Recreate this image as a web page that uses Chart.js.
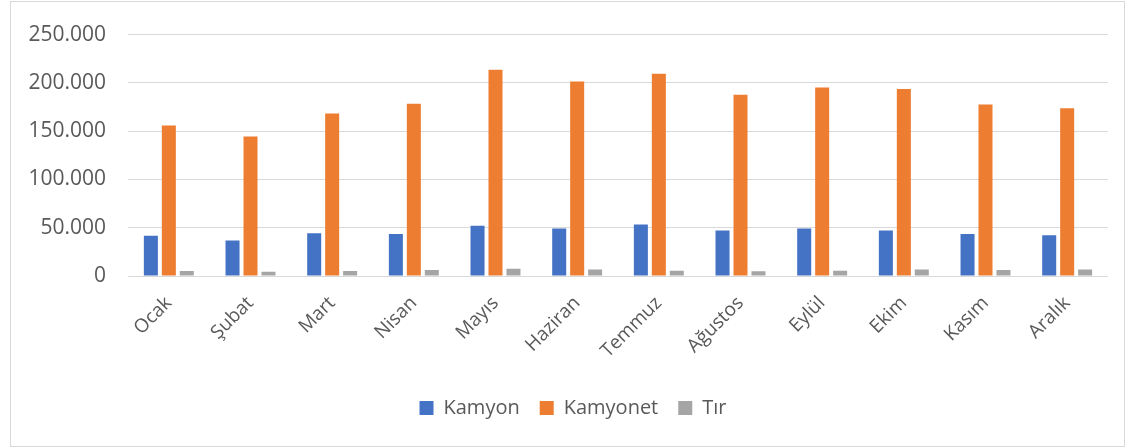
<!DOCTYPE html>
<html><head><meta charset="utf-8">
<script src="https://cdn.jsdelivr.net/npm/chart.js@4"></script>
<style>
html,body{margin:0;padding:0;background:#fff;}
#frame{position:absolute;left:10px;top:1px;width:1113px;height:444px;border:1px solid #d9d9d9;}
#wrap{position:absolute;left:0;top:0;width:1125px;height:448px;}
</style></head>
<body>
<div id="frame"></div>
<div id="wrap"><canvas id="c" width="1125" height="448"></canvas></div>
<script>
const months = ["Ocak","Şubat","Mart","Nisan","Mayıs","Haziran","Temmuz","Ağustos","Eylül","Ekim","Kasım","Aralık"];
const kamyon = [41800,36700,44200,43500,52000,49300,53400,47200,49300,47200,43500,42100];
const kamyonet = [155800,144500,168400,178300,213600,201300,209500,187600,195100,193700,177700,173600];
const tir = [5100,4500,5100,6200,7500,6800,5500,4800,5500,6800,6200,6800];
const yMin = 0, yMax = 250000, yStep = 50000;

const fontFamily = "'Open Sans', sans-serif";
const txt = '#595959';

const shiftLegend = {
  id:'shiftLegend',
  afterLayout(chart){ const l = chart.legend; if(l){ l.left += 14; l.right += 14; } }
};

new Chart(document.getElementById('c'), {
  type: 'bar',
  data: {
    labels: months,
    datasets: [
      {label:'Kamyon', data:kamyon, backgroundColor:'#4472C4'},
      {label:'Kamyonet', data:kamyonet, backgroundColor:'#ED7D31'},
      {label:'Tır', data:tir, backgroundColor:'#A5A5A5'}
    ]
  },
  plugins:[shiftLegend],
  options: {
    responsive:false, animation:false,
    devicePixelRatio:1,
    datasets:{bar:{categoryPercentage:0.66, barPercentage:0.78}},
    layout:{padding:{left:10, right:17, top:31, bottom:20}},
    plugins:{
      tooltip:{enabled:false},
      legend:{position:'bottom', labels:{font:{family:fontFamily,size:20}, color:txt, boxWidth:14, boxHeight:14, padding:20}}
    },
    scales:{
      x:{
        grid:{display:false}, border:{display:false},
        ticks:{font:{family:fontFamily,size:19}, color:txt, maxRotation:45, minRotation:45, padding:8},
        afterFit:(s)=>{s.height = 102;}
      },
      y:{
        min:yMin, max:yMax,
        grid:{color:'#d9d9d9', lineWidth:1, drawTicks:false},
        border:{display:false},
        ticks:{stepSize:yStep, font:{family:fontFamily,size:21}, color:txt, padding:22,
          callback:(v)=> v===0 ? '0' : v.toLocaleString('de-DE')},
        afterFit:(s)=>{s.width = 118;}
      }
    }
  }
});
</script>
</body></html>
